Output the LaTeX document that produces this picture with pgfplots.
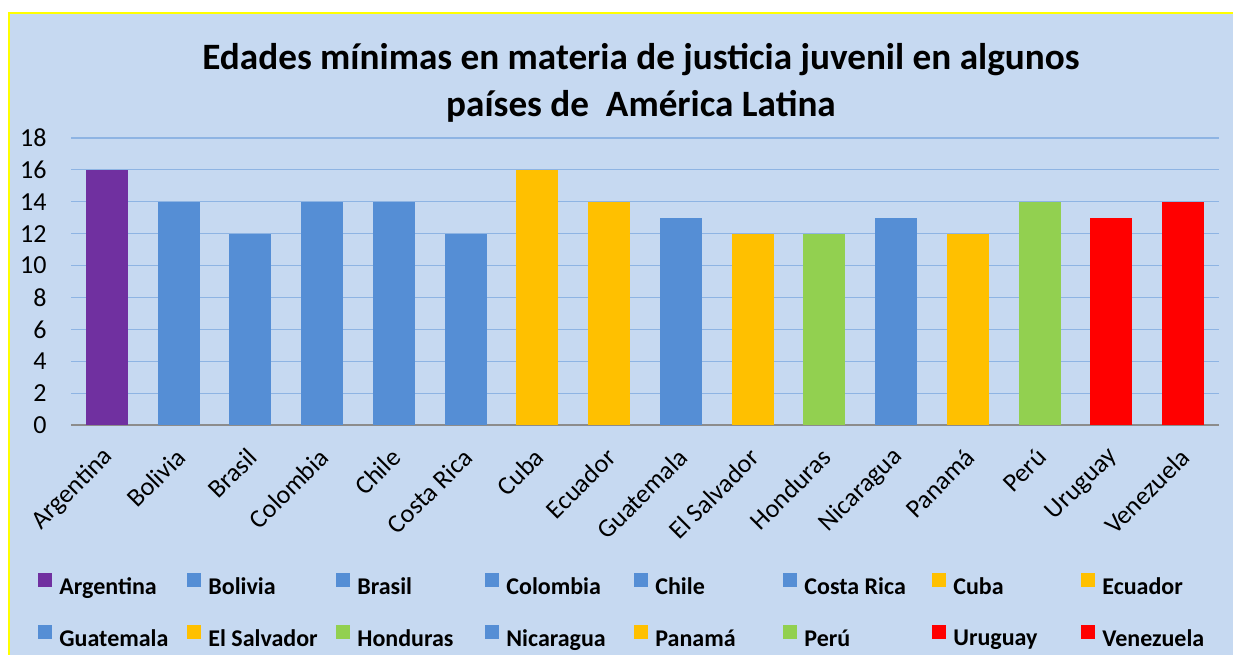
\documentclass[border=0pt]{standalone}
\usepackage{pgfplots}
\pgfplotsset{compat=1.18}
\usepackage{fontspec}
\setmainfont{Carlito}
\definecolor{bgblue}{HTML}{C6D9F1}
\definecolor{gridblue}{HTML}{8EB4E3}
\definecolor{cpurple}{HTML}{7030A0}
\definecolor{cblue}{HTML}{558ED5}
\definecolor{cgold}{HTML}{FFC000}
\definecolor{cgreen}{HTML}{92D050}
\definecolor{cred}{HTML}{FF0000}
\definecolor{cyel}{HTML}{FFFF00}
\newcommand{\legent}[1]{\addlegendentry{\makebox[64pt][l]{\bfseries #1}}}
\begin{document}
\begin{tikzpicture}
\fill[white] (0,0) rectangle (616.5pt,327.5pt);
\fill[bgblue] (4pt,0) rectangle (616.5pt,321.5pt);
\fill[cyel] (4pt,0) rectangle (5pt,321.5pt);
\fill[cyel] (4pt,320.5pt) rectangle (616.5pt,321.5pt);
\begin{axis}[
  at={(35.5pt,115pt)}, anchor=south west,
  scale only axis, width=574pt, height=143.5pt,
  xmin=-0.5, xmax=15.5, ymin=0, ymax=18,
  ybar, bar shift=0pt, bar width=21pt,
  ytick={0,2,...,18},
  xtick={0,...,15},
  xticklabels={Argentina,Bolivia,Brasil,Colombia,Chile,Costa Rica,Cuba,Ecuador,Guatemala,El Salvador,Honduras,Nicaragua,Panamá,Perú,Uruguay,Venezuela},
  xticklabel style={rotate=45, anchor=east, inner sep=0pt, xshift=-9pt, yshift=-10.7pt, font=\fontsize{13}{15}\selectfont},
  yticklabel style={font=\fontsize{13}{15}\selectfont, inner sep=0pt, xshift=-12pt},
  /pgf/number format/assume math mode=true,
  major tick length=0pt,
  axis lines*=left,
  y axis line style={draw=none},
  x axis line style={draw=gray!90, line width=1pt, -},
  ymajorgrids, major grid style={draw=gridblue, line width=0.6pt},
  title={Edades mínimas en materia de justicia juvenil en algunos\\países de \ América Latina},
  title style={at={(0.4965,1.288)}, anchor=north, align=center, inner sep=0pt, font=\fontsize{18.6}{23.5}\selectfont\bfseries},
  legend columns=8,
  legend style={at={(-0.02875,-0.5157)}, anchor=north west, draw=none, fill=none, inner sep=0pt, row sep=14pt, font=\fontsize{12}{13}\selectfont,
    nodes={inner sep=0pt}, /tikz/every odd column/.append style={column sep=3.5pt}},
  legend image code/.code={\fill[#1] (0pt,0pt) rectangle (7pt,7pt);},
]
\addplot[fill=cpurple, draw=none, bar shift=0pt] coordinates {(0,16)}; \legent{Argentina}
\addplot[fill=cblue, draw=none, bar shift=0pt] coordinates {(1,14)}; \legent{Bolivia}
\addplot[fill=cblue, draw=none, bar shift=0pt] coordinates {(2,12)}; \legent{Brasil}
\addplot[fill=cblue, draw=none, bar shift=0pt] coordinates {(3,14)}; \legent{Colombia}
\addplot[fill=cblue, draw=none, bar shift=0pt] coordinates {(4,14)}; \legent{Chile}
\addplot[fill=cblue, draw=none, bar shift=0pt] coordinates {(5,12)}; \legent{Costa Rica}
\addplot[fill=cgold, draw=none, bar shift=0pt] coordinates {(6,16)}; \legent{Cuba}
\addplot[fill=cgold, draw=none, bar shift=0pt] coordinates {(7,14)}; \legent{Ecuador}
\addplot[fill=cblue, draw=none, bar shift=0pt] coordinates {(8,13)}; \legent{Guatemala}
\addplot[fill=cgold, draw=none, bar shift=0pt] coordinates {(9,12)}; \legent{El Salvador}
\addplot[fill=cgreen, draw=none, bar shift=0pt] coordinates {(10,12)}; \legent{Honduras}
\addplot[fill=cblue, draw=none, bar shift=0pt] coordinates {(11,13)}; \legent{Nicaragua}
\addplot[fill=cgold, draw=none, bar shift=0pt] coordinates {(12,12)}; \legent{Panamá}
\addplot[fill=cgreen, draw=none, bar shift=0pt] coordinates {(13,14)}; \legent{Perú}
\addplot[fill=cred, draw=none, bar shift=0pt] coordinates {(14,13)}; \legent{Uruguay}
\addplot[fill=cred, draw=none, bar shift=0pt] coordinates {(15,14)}; \legent{Venezuela}
\end{axis}
\end{tikzpicture}
\end{document}
